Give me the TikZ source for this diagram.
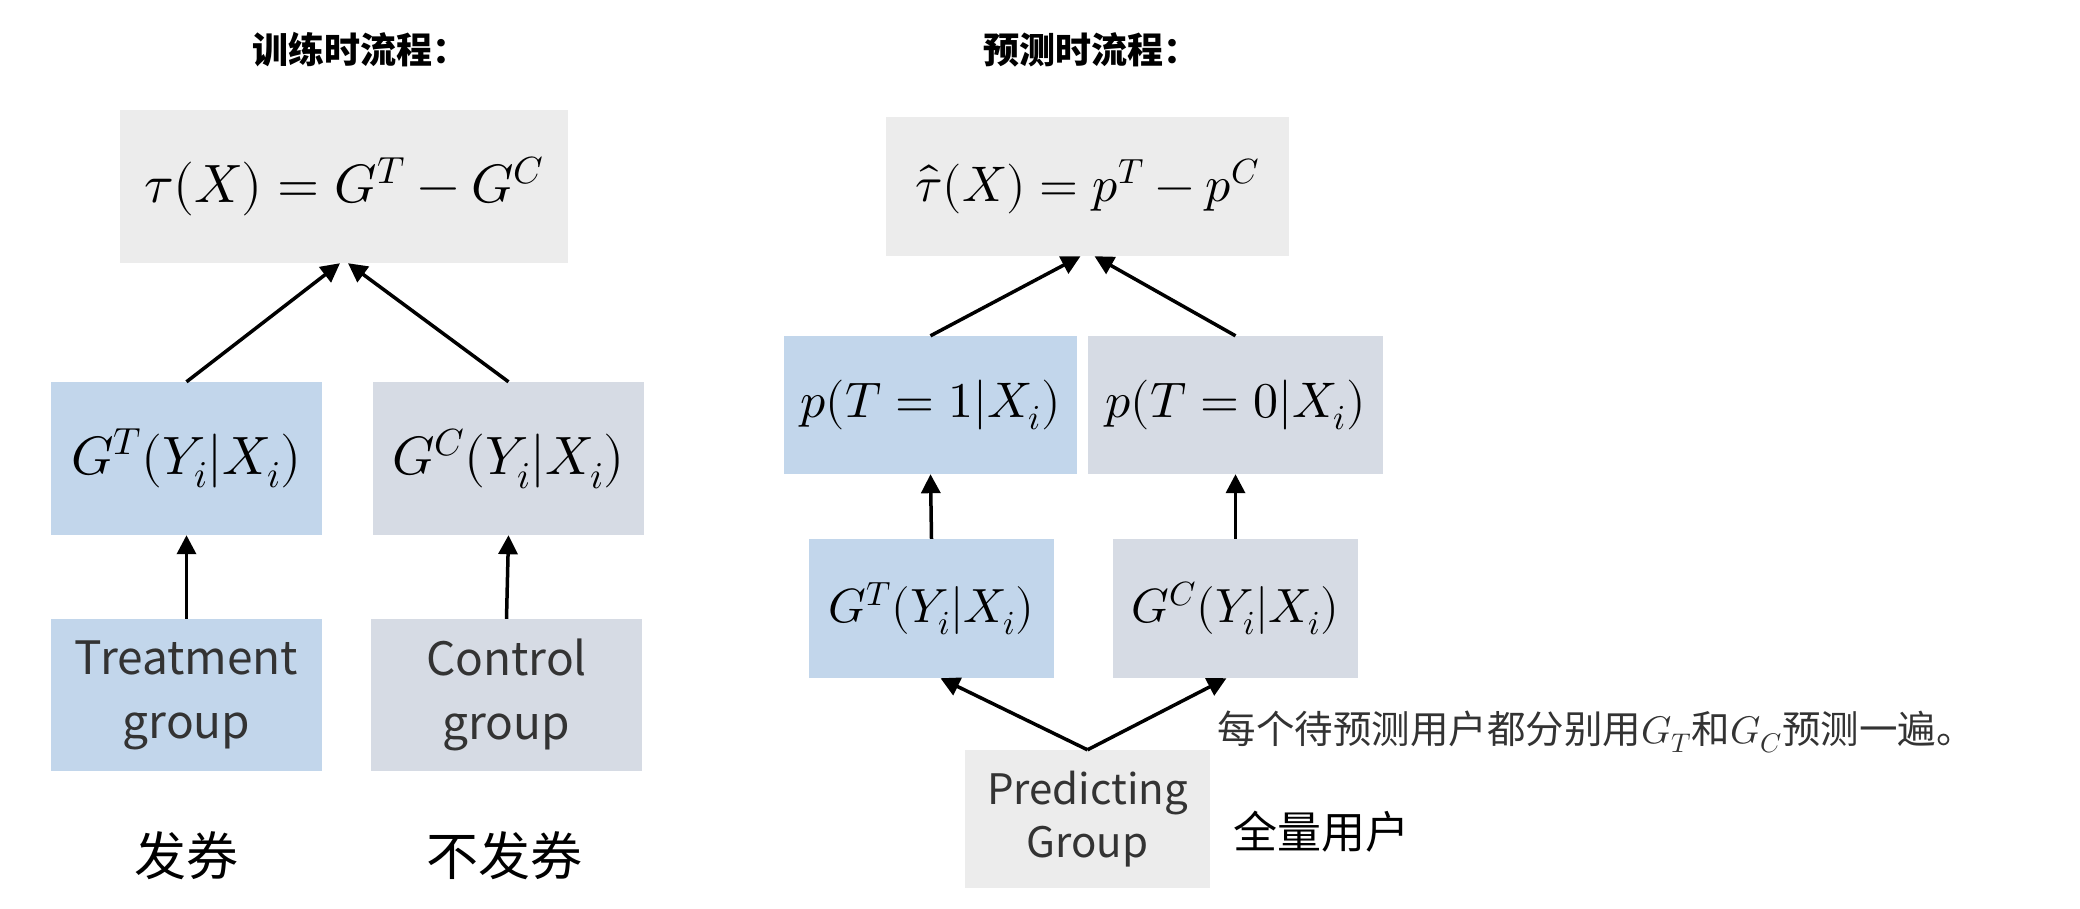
\documentclass[tikz,border=0pt]{standalone}
\usepackage{fontspec}
\usepackage{unicode-math}
\setmainfont{Noto Sans CJK SC}
\usetikzlibrary{arrows.meta}
\definecolor{boxblue}{HTML}{C2D6EB}
\definecolor{boxgray}{HTML}{D6DBE4}
\definecolor{boxlight}{HTML}{ECECEC}
\newcommand\trainsize{\fontsize{54}{60}\selectfont}
\newcommand\predsize{\fontsize{50}{56}\selectfont}

\begin{document}
\begin{tikzpicture}[x=1pt, y=-1pt,
  box/.style={inner sep=0pt, minimum width=271pt, minimum height=153pt, align=center},
  tbox/.style={box, fill=boxblue},
  cbox/.style={box, fill=boxgray},
  lbox/.style={box, fill=boxlight},
  arr/.style={-{Triangle[length=19pt, width=19pt]}, line width=3.5pt},
  grouptext/.style={text=black!80, font=\fontsize{46}{64}\selectfont},
  title/.style={font=\fontsize{36}{40}\selectfont\bfseries}]
\useasboundingbox (0,0) rectangle (2080,908);

% 训练时流程
\node[title] (titleL) at (360,50) {训练时流程：};
\node[lbox, minimum width=448pt] (tauL) at (344,186.5) {\trainsize $\tau(X)=G^T-G^C$};
\node[tbox] (GTL) at (186.5,458.5) {\trainsize $G^T(Y_i|X_i)$};
\node[cbox] (GCL) at (508.5,458.5) {\trainsize $G^C(Y_i|X_i)$};
\node[tbox, grouptext, minimum height=152pt] (treat) at (186.5,695) {Treatment\\group};
\node[cbox, grouptext, minimum height=152pt] (ctrl) at (506.5,695) {Control\\group};
\node[font=\fontsize{52}{60}\selectfont] (fa) at (186,856) {发券};
\node[font=\fontsize{52}{60}\selectfont] (bufa) at (504,856) {不发券};
\draw[arr] (GTL.north) -- ([xshift=-4pt]tauL.south);
\draw[arr] (GCL.north) -- ([xshift=4pt]tauL.south);
\draw[arr] (treat.north) -- (GTL.south);
\draw[arr] (ctrl.north) -- (GCL.south);

% 预测时流程
\node[title] (titleR) at (1091,50) {预测时流程：};
\node[lbox, minimum width=403pt, minimum height=139pt] (tauR) at (1087.5,186.5) {\predsize $\hat{\tau}(X)=p^T-p^C$};
\node[tbox, minimum width=293pt, minimum height=138pt] (p1) at (930.5,405) {\predsize $p(T=1|X_i)$};
\node[cbox, minimum width=295pt, minimum height=138pt] (p0) at (1235.5,405) {\predsize $p(T=0|X_i)$};
\node[tbox, minimum width=245pt, minimum height=139pt] (GTR) at (931.5,608.5) {\fontsize{48}{54}\selectfont $G^T(Y_i|X_i)$};
\node[cbox, minimum width=245pt, minimum height=139pt] (GCR) at (1235.5,608.5) {\fontsize{48}{54}\selectfont $G^C(Y_i|X_i)$};
\node[lbox, grouptext, minimum width=245pt, minimum height=138pt, font=\fontsize{42}{53}\selectfont] (pred) at (1087.5,819) {Predicting\\Group};
\node[anchor=west, text=black!80, font=\fontsize{38.5}{44}\selectfont] (note) at (1214,732) {每个待预测用户都分别用$G_T$和$G_C$预测一遍。};
\node[anchor=west, font=\fontsize{44}{50}\selectfont] (all) at (1230,832) {全量用户};
\draw[arr] (p1.north) -- ([xshift=-7pt]tauR.south);
\draw[arr] (p0.north) -- ([xshift=7pt]tauR.south);
\draw[arr] (GTR.north) -- (p1.south);
\draw[arr] (GCR.north) -- (p0.south);
\draw[arr] (pred.north) -- ([xshift=9pt]GTR.south);
\draw[arr] (pred.north) -- ([xshift=-9pt]GCR.south);
\end{tikzpicture}
\end{document}
